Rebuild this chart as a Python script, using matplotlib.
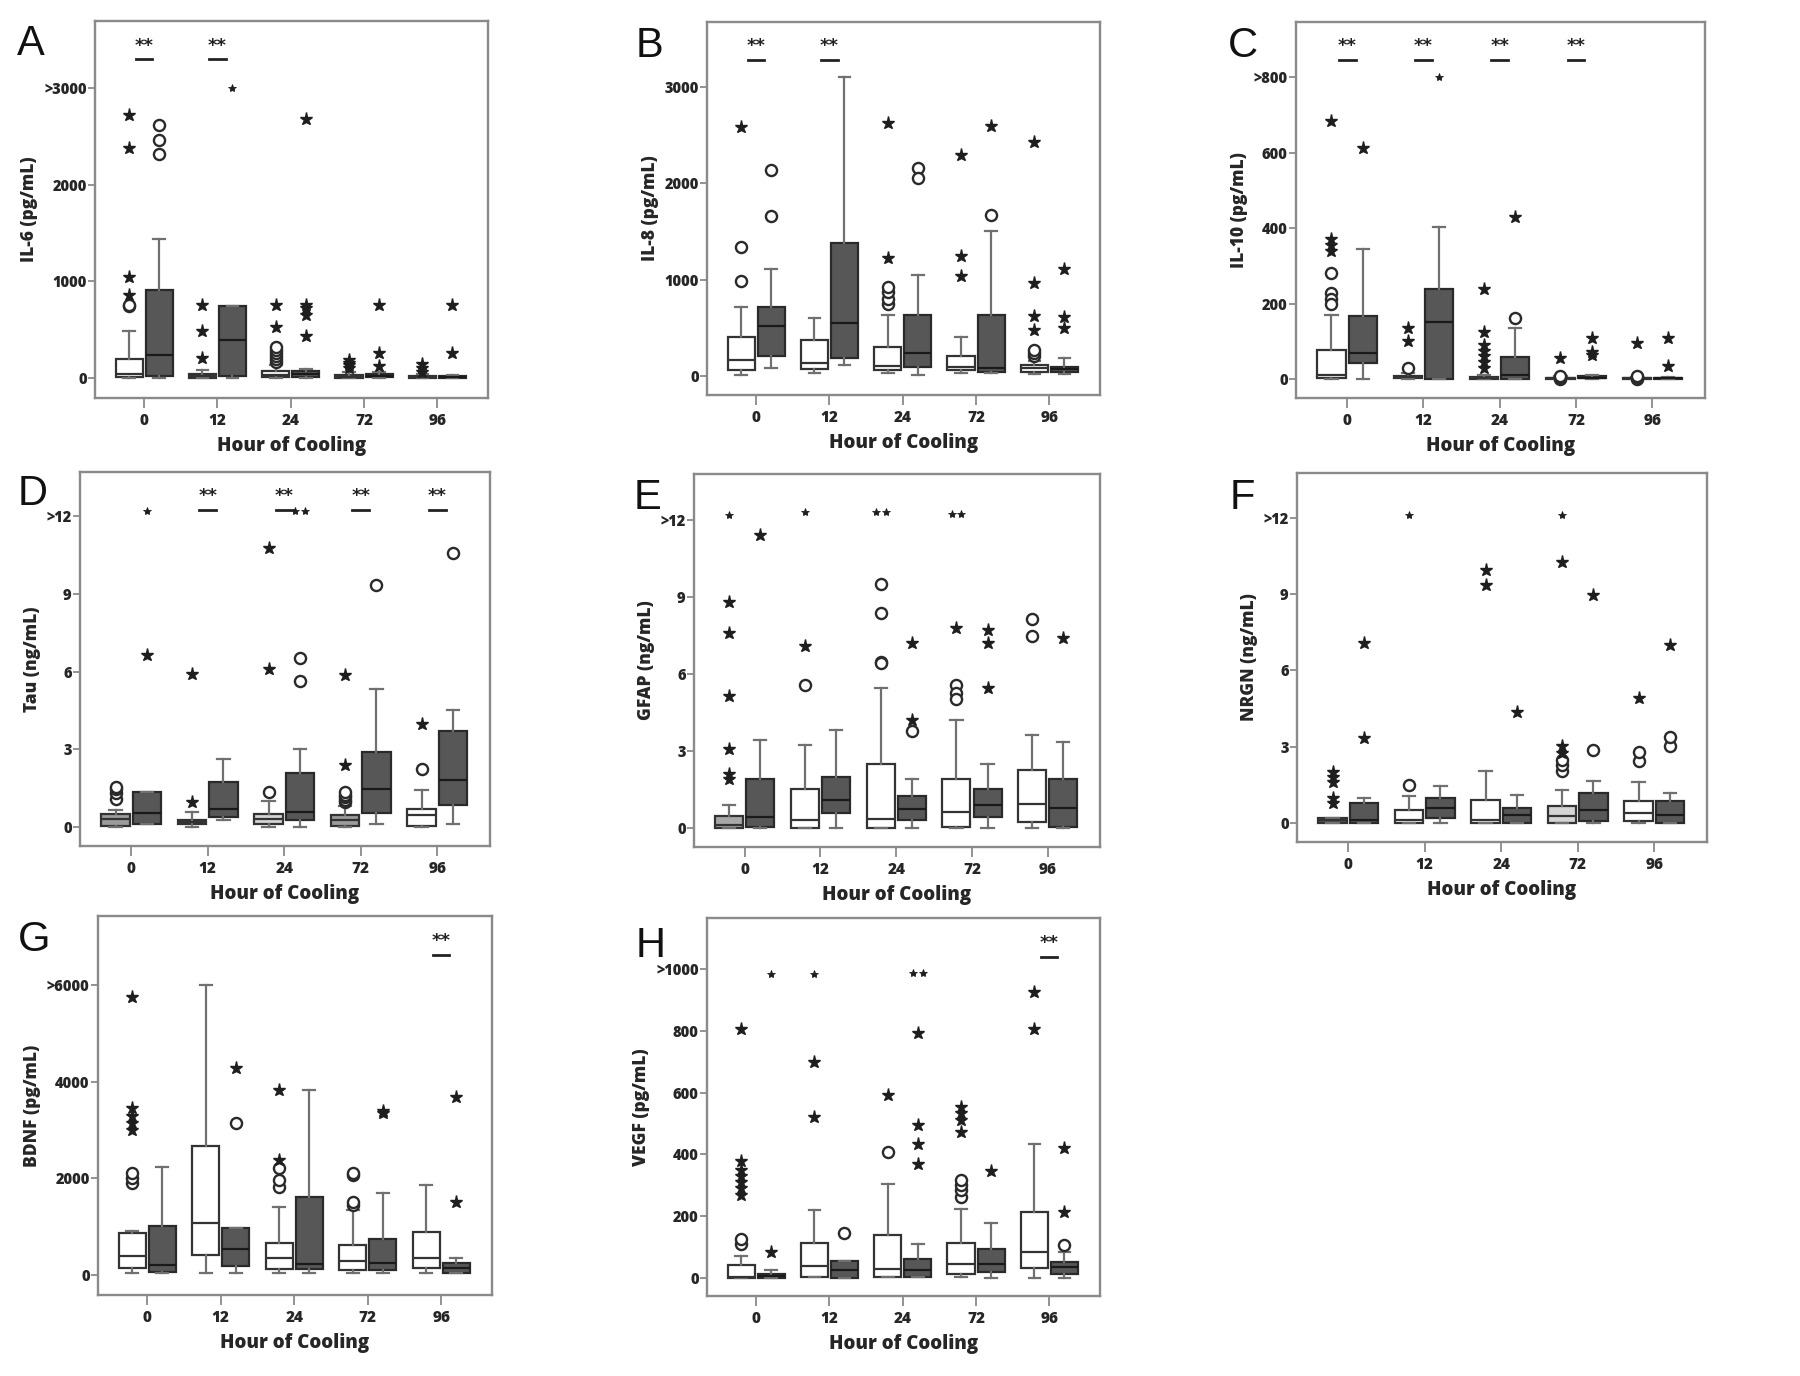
import numpy as np
import matplotlib
matplotlib.use('Agg')
import matplotlib.pyplot as plt
from matplotlib.transforms import blended_transform_factory

plt.rcParams['font.family'] = ['Open Sans', 'DejaVu Sans']

hours = ['0', '12', '24', '72', '96']

# ---------- data: box stats per hour = [whislo, q1, median, q3, whishi] ----------
# A  IL-6
il6_light_box = [[0, 15, 45, 195, 482], [0, 5, 20, 40, 86], [0, 10, 35, 70, 130], [0, 5, 15, 35, 60], [0, 3, 10, 20, 40]]
il6_light_circles = [[740, 760], [], [170, 200, 230, 260, 290, 320], [], []]
il6_light_stars = [[2718, 2380, 1049, 860], [757, 482, 206], [757, 523], [100, 130, 160, 190], [60, 100, 140]]
il6_dark_box = [[0, 20, 241, 912, 1434], [0, 17, 396, 740, 740], [0, 10, 40, 70, 90], [0, 10, 25, 40, 60], [0, 5, 12, 20, 30]]
il6_dark_circles = [[2614, 2460, 2322], [], [], [], []]
il6_dark_stars = [[], [3000], [2683, 757, 722, 654, 437], [757, 258, 120], [757, 258]]
il6_sig = [0, 1]

# B  IL-8
il8_light_box = [[10, 62, 166, 408, 712], [28, 69, 131, 373, 605], [28, 62, 104, 304, 636], [28, 62, 97, 207, 401], [20, 45, 80, 114, 160]]
il8_light_circles = [[1341, 985], [], [750, 800, 870, 920], [], [210, 240, 270]]
il8_light_stars = [[2585], [], [2627, 1227], [2291, 1244, 1040], [2430, 968, 622, 477]]
il8_dark_box = [[80, 207, 518, 712, 1106], [114, 183, 553, 1382, 3103], [10, 97, 235, 632, 1047], [28, 45, 80, 632, 1503], [20, 45, 69, 97, 183]]
il8_dark_circles = [[2143, 1659], [], [2160, 2060], [1669], []]
il8_dark_stars = [[], [], [], [2592], [1116, 615, 494]]
il8_sig = [0, 1]

# C  IL-10
il10_light_box = [[0, 4, 11, 78, 170], [0, 2, 5, 9, 15], [0, 1, 3, 6, 12], [0, 1, 2, 4, 8], [0, 1, 2, 3, 6]]
il10_light_circles = [[282, 228, 213, 200], [29], [], [0, 2, 4, 6, 8], [0, 2, 4, 6, 8]]
il10_light_stars = [[684, 370, 355, 340], [135, 102], [240, 126, 91, 75, 60, 45, 30], [55], [97]]
il10_dark_box = [[0, 44, 70, 167, 346], [0, 0, 152, 238, 404], [0, 0, 11, 58, 135], [0, 2, 4, 7, 10], [0, 1, 2, 4, 6]]
il10_dark_circles = [[], [], [161], [], []]
il10_dark_stars = [[611], [800], [430], [108, 73, 64], [108, 35]]
il10_sig = [0, 1, 2, 3]

# D  Tau
tau_light_box = [[0, 0.06, 0.32, 0.52, 0.64], [0.02, 0.13, 0.19, 0.26, 0.58], [0, 0.13, 0.32, 0.52, 1.0], [0, 0.06, 0.26, 0.45, 0.8], [0, 0.06, 0.45, 0.71, 1.42]]
tau_light_circles = [[1.1, 1.3, 1.45, 1.55], [], [1.35], [0.95, 1.05, 1.15, 1.25, 1.35], [2.25]]
tau_light_stars = [[], [0.97, 5.92], [6.08, 10.75], [2.38, 5.88], [3.97]]
tau_dark_box = [[0.1, 0.13, 0.54, 1.35, 1.35], [0.26, 0.39, 0.71, 1.74, 2.64], [0, 0.26, 0.58, 2.09, 3.03], [0.13, 0.54, 1.48, 2.90, 5.34], [0.13, 0.84, 1.83, 3.70, 4.53]]
tau_dark_circles = [[], [], [6.53, 5.64], [9.33], [10.58]]
tau_dark_stars = [[12.2, 6.63], [], [12.2, 12.2], [], []]
tau_sig = [1, 2, 3, 4]

# E  GFAP
gfap_light_box = [[0, 0, 0.10, 0.46, 0.88], [0, 0, 0.33, 1.50, 3.22], [0, 0, 0.36, 2.48, 5.47], [0, 0.04, 0.62, 1.92, 4.20], [0, 0.23, 0.95, 2.25, 3.61]]
gfap_light_circles = [[], [5.59], [9.49, 8.36, 6.47, 6.41], [5.56, 5.24, 5.04], [8.14, 7.47]]
gfap_light_stars = [[12.2, 8.81, 7.58, 5.13, 3.09, 2.12, 1.92], [12.3, 7.10], [12.3, 12.3], [12.25, 12.25, 7.80], []]
gfap_dark_box = [[0, 0.04, 0.43, 1.92, 3.42], [0, 0.59, 1.11, 1.99, 3.81], [0, 0.30, 0.75, 1.24, 1.92], [0, 0.43, 0.91, 1.50, 2.48], [0, 0.04, 0.78, 1.92, 3.35]]
gfap_dark_circles = [[], [], [3.77], [], []]
gfap_dark_stars = [[11.41], [], [4.22, 7.19], [7.71, 7.19, 5.46], [7.41]]
gfap_sig = []

# F  NRGN
nrgn_light_box = [[0, 0, 0.13, 0.20, 0.20], [0, 0, 0.13, 0.52, 1.07], [0, 0, 0.13, 0.92, 2.03], [0, 0, 0.26, 0.65, 1.31], [0, 0.07, 0.39, 0.85, 1.60]]
nrgn_light_circles = [[], [1.50], [], [2.03, 2.29, 2.49], [2.42, 2.81]]
nrgn_light_stars = [[0.8, 1.0, 1.6, 1.8, 2.0], [12.1], [9.36, 9.97], [2.75, 3.04, 10.27, 12.1], [4.91]]
nrgn_dark_box = [[0, 0, 0.13, 0.79, 0.98], [0, 0.20, 0.59, 0.98, 1.47], [0, 0, 0.33, 0.59, 1.11], [0, 0.07, 0.52, 1.18, 1.64], [0, 0, 0.33, 0.85, 1.18]]
nrgn_dark_circles = [[], [], [], [2.88], [3.01, 3.40]]
nrgn_dark_stars = [[3.34, 7.07], [], [4.38], [8.96], [7.00]]
nrgn_sig = []

# G  BDNF
bdnf_light_box = [[34, 138, 393, 862, 900], [34, 414, 1083, 2669, 6000], [34, 117, 345, 669, 1414], [34, 103, 297, 621, 1350], [34, 138, 345, 897, 1862]]
bdnf_light_circles = [[1900, 2000, 2100], [], [1828, 1966, 2207], [1448, 1517, 2060, 2103], []]
bdnf_light_stars = [[3000, 3150, 3300, 3450, 5745], [], [2379, 3828], [], []]
bdnf_dark_box = [[34, 69, 207, 1014, 2241], [34, 186, 531, 966, 966], [34, 117, 228, 1607, 3828], [34, 103, 255, 738, 1690], [34, 34, 138, 241, 345]]
bdnf_dark_circles = [[], [3152], [], [], []]
bdnf_dark_stars = [[], [4276], [], [3350, 3400], [3676, 1517]]
bdnf_sig = [4]

# H  VEGF
vegf_light_box = [[0, 0, 5, 41, 73], [3, 3, 38, 113, 221], [3, 3, 30, 138, 303], [3, 14, 46, 113, 225], [0, 32, 84, 214, 433]]
vegf_light_circles = [[110, 125], [], [408], [262, 284, 300, 316], []]
vegf_light_stars = [[270, 290, 310, 330, 350, 380, 805], [522, 700, 985], [592], [473, 511, 535, 554], [805, 927]]
vegf_dark_box = [[0, 0, 6, 14, 25], [0, 0, 25, 54, 54], [3, 3, 25, 63, 109], [0, 19, 46, 95, 178], [0, 14, 36, 52, 84]]
vegf_dark_circles = [[], [146], [], [], [106]]
vegf_dark_stars = [[84, 985], [], [370, 435, 495, 794, 988, 988], [347], [214, 422]]
vegf_sig = [4]

# ---------- layout (pixel boxes in the 1800x1376 canvas) ----------
W, H = 1800, 1376
WH = 'white'
panels = [
    dict(letter='A', label='IL-6 (pg/mL)', rect=(95, 21, 488, 398), ylim=(-207, 3693),
         yticks=[0, 1000, 2000, 3000], ylabels=['0', '1000', '2000', '>3000'], cap=3000,
         lb=il6_light_box, lc=il6_light_circles, ls=il6_light_stars,
         db=il6_dark_box, dc=il6_dark_circles, ds=il6_dark_stars, sig=il6_sig, lp=(17, 24),
         lface=[WH] * 5),
    dict(letter='B', label='IL-8 (pg/mL)', rect=(707, 22, 1100, 395), ylim=(-197, 3675),
         yticks=[0, 1000, 2000, 3000], ylabels=['0', '1000', '2000', '3000'], cap=None,
         lb=il8_light_box, lc=il8_light_circles, ls=il8_light_stars,
         db=il8_dark_box, dc=il8_dark_circles, ds=il8_dark_stars, sig=il8_sig, lp=(636, 26),
         lface=[WH] * 5),
    dict(letter='C', label='IL-10 (pg/mL)', rect=(1296, 22, 1705, 398), ylim=(-50, 946),
         yticks=[0, 200, 400, 600, 800], ylabels=['0', '200', '400', '600', '>800'], cap=800,
         lb=il10_light_box, lc=il10_light_circles, ls=il10_light_stars,
         db=il10_dark_box, dc=il10_dark_circles, ds=il10_dark_stars, sig=il10_sig, lp=(1228, 26),
         lface=[WH] * 5),
    dict(letter='D', label='Tau (ng/mL)', rect=(80, 472, 490, 846), ylim=(-0.73, 13.7),
         yticks=[0, 3, 6, 9, 12], ylabels=['0', '3', '6', '9', '>12'], cap=12,
         lb=tau_light_box, lc=tau_light_circles, ls=tau_light_stars,
         db=tau_dark_box, dc=tau_dark_circles, ds=tau_dark_stars, sig=tau_sig, lp=(18, 474),
         lface=['#9c9c9c', '#555555', '#d4d4d4', '#9c9c9c', WH]),
    dict(letter='E', label='GFAP (ng/mL)', rect=(694, 474, 1100, 847), ylim=(-0.74, 13.79),
         yticks=[0, 3, 6, 9, 12], ylabels=['0', '3', '6', '9', '>12'], cap=12,
         lb=gfap_light_box, lc=gfap_light_circles, ls=gfap_light_stars,
         db=gfap_dark_box, dc=gfap_dark_circles, ds=gfap_dark_stars, sig=gfap_sig, lp=(634, 478),
         lface=['#a8a8a8', WH, WH, WH, WH]),
    dict(letter='F', label='NRGN (ng/mL)', rect=(1297, 473, 1707, 842), ylim=(-0.75, 13.77),
         yticks=[0, 3, 6, 9, 12], ylabels=['0', '3', '6', '9', '>12'], cap=12,
         lb=nrgn_light_box, lc=nrgn_light_circles, ls=nrgn_light_stars,
         db=nrgn_dark_box, dc=nrgn_dark_circles, ds=nrgn_dark_stars, sig=nrgn_sig, lp=(1230, 478),
         lface=['#555555', WH, WH, '#d4d4d4', WH]),
    dict(letter='G', label='BDNF (pg/mL)', rect=(98, 916, 492, 1295), ylim=(-414, 7428),
         yticks=[0, 2000, 4000, 6000], ylabels=['0', '2000', '4000', '>6000'], cap=6000,
         lb=bdnf_light_box, lc=bdnf_light_circles, ls=bdnf_light_stars,
         db=bdnf_dark_box, dc=bdnf_dark_circles, ds=bdnf_dark_stars, sig=bdnf_sig, lp=(18, 920),
         lface=[WH] * 5),
    dict(letter='H', label='VEGF (pg/mL)', rect=(707, 918, 1100, 1296), ylim=(-58, 1165),
         yticks=[0, 200, 400, 600, 800, 1000], ylabels=['0', '200', '400', '600', '800', '>1000'], cap=1000,
         lb=vegf_light_box, lc=vegf_light_circles, ls=vegf_light_stars,
         db=vegf_dark_box, dc=vegf_dark_circles, ds=vegf_dark_stars, sig=vegf_sig, lp=(636, 926),
         lface=[WH] * 5),
]

OFF = 0.205
BW = 0.37
DARK = '#575757'
FRAME = '#8a8a8a'
TXT = '#262626'

fig = plt.figure(figsize=(18, 13.76), dpi=100)


def rect(x0, y0, x1, y1):
    return [x0 / W, 1 - y1 / H, (x1 - x0) / W, (y1 - y0) / H]


def to_stats(boxes):
    return [dict(whislo=b[0], q1=b[1], med=b[2], q3=b[3], whishi=b[4]) for b in boxes]


def draw_points(ax, groups, offset, marker, cap):
    for i, vals in enumerate(groups):
        if not vals:
            continue
        vals = np.asarray(vals, dtype=float)
        xs = np.full(len(vals), i + offset)
        # spread identical values side by side
        uniq, counts = np.unique(vals, return_counts=True)
        for u, c in zip(uniq, counts):
            if c > 1:
                idx = np.where(vals == u)[0]
                xs[idx] = i + offset + (np.arange(c) - (c - 1) / 2) * 0.13
        small = np.zeros(len(vals), bool)
        if cap is not None:
            small = vals >= 0.98 * cap
        if marker == '*':
            ax.plot(xs[~small], vals[~small], ls='none', marker='*', ms=9.5, color='#1e1e1e', mew=1.0, zorder=4)
            ax.plot(xs[small], vals[small], ls='none', marker='*', ms=6, color='#1e1e1e', mew=0.6, zorder=4)
        else:
            ax.plot(xs, vals, ls='none', marker='o', ms=8, mfc='white', mec='#2a2a2a', mew=1.7, zorder=4)


for p in panels:
    ax = fig.add_axes(rect(*p['rect']))
    pos = np.arange(len(hours))
    common = dict(widths=BW, patch_artist=True, showfliers=False, manage_ticks=False,
                  whiskerprops=dict(color='#707070', lw=1.6),
                  capprops=dict(color='#707070', lw=1.6),
                  capwidths=0.16)
    res = ax.bxp(to_stats(p['lb']), positions=pos - OFF,
                 boxprops=dict(facecolor='white', edgecolor='#333333', lw=1.6),
                 medianprops=dict(color='#333333', lw=1.6), **common)
    for patch, fc in zip(res['boxes'], p['lface']):
        patch.set_facecolor(fc)
    ax.bxp(to_stats(p['db']), positions=pos + OFF,
           boxprops=dict(facecolor=DARK, edgecolor='#2a2a2a', lw=1.6),
           medianprops=dict(color='#1a1a1a', lw=1.6), **common)

    draw_points(ax, p['lc'], -OFF, 'o', p['cap'])
    draw_points(ax, p['ls'], -OFF, '*', p['cap'])
    draw_points(ax, p['dc'], OFF, 'o', p['cap'])
    draw_points(ax, p['ds'], OFF, '*', p['cap'])

    tr = blended_transform_factory(ax.transData, ax.transAxes)
    for s in p['sig']:
        ax.plot([s - 0.11, s + 0.11], [0.898, 0.898], color='#222222', lw=2.0, transform=tr)
        ax.text(s, 0.935, '**', ha='center', va='center', fontsize=13, fontweight='bold',
                color='#222222', transform=tr, family='DejaVu Sans')

    ax.set_xlim(-0.67, 4.69)
    ax.set_ylim(*p['ylim'])
    ax.set_xticks(pos)
    ax.set_xticklabels(hours)
    ax.set_yticks(p['yticks'])
    ax.set_yticklabels(p['ylabels'])
    for lab in ax.get_xticklabels() + ax.get_yticklabels():
        lab.set_fontweight('heavy')
    ax.tick_params(axis='both', colors=FRAME, labelcolor=TXT, labelsize=10.5, width=1.3)
    ax.tick_params(axis='x', length=7, pad=4, labelsize=11)
    ax.tick_params(axis='y', length=5, pad=1)
    for sp in ax.spines.values():
        sp.set_color(FRAME)
        sp.set_linewidth(1.7)
    ax.set_xlabel('Hour of Cooling', fontsize=13.5, fontweight='heavy', color=TXT, labelpad=5)
    ax.set_ylabel(p['label'], fontsize=12.5, fontweight='heavy', color=TXT, labelpad=4)

    lx, ly = p['lp']
    fig.text(lx / W, 1 - ly / H, p['letter'], ha='left', va='top', fontsize=30,
             family='Liberation Sans', color='#111111')

fig.savefig('out.png', dpi=100, facecolor='white')
